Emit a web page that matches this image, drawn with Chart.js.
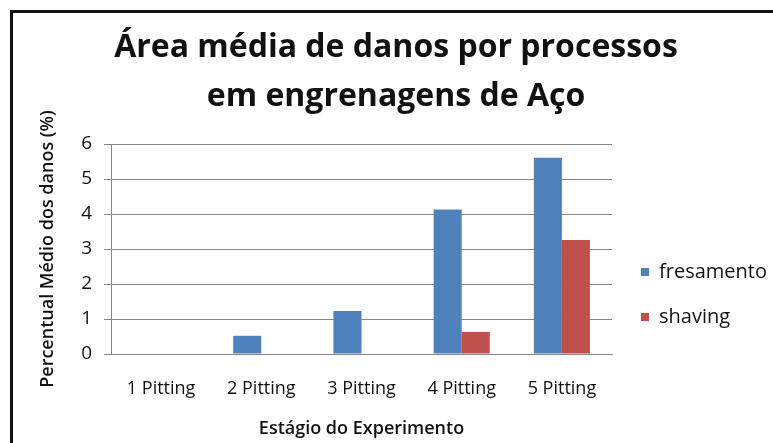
<!DOCTYPE html>
<html>
<head>
<meta charset="utf-8">
<title>Área média de danos por processos em engrenagens de Aço</title>
<script src="https://cdn.jsdelivr.net/npm/chart.js@4/dist/chart.umd.min.js"></script>
<style>
  html, body { margin: 0; padding: 0; background: #fff; }
  #wrap { position: relative; width: 773px; height: 443px; overflow: hidden; }
  #frame {
    position: absolute; left: 10px; top: 10px; right: 0; bottom: 0;
    border-top: 3px solid #111; border-left: 3px solid #111;
    pointer-events: none;
  }
</style>
</head>
<body>
<div id="wrap">
  <canvas id="chart" width="773" height="443"></canvas>
  <div id="frame"></div>
</div>
<script>
const stages = ["1 Pitting", "2 Pitting", "3 Pitting", "4 Pitting", "5 Pitting"];
const fresamento = [0, 0.52, 1.23, 4.13, 5.61];
const shaving = [0, 0, 0, 0.63, 3.26];
const yMin = 0;
const yMax = 6;
const yStep = 1;

const gridGray = "#878787";
const textColor = "#111";
const fontFamily = "'Open Sans', Lato, sans-serif";

// keeps the legend column at a fixed width and moves it beside the plot
const legendPlacement = {
  id: "legendPlacement",
  beforeLayout(chart) {
    const lg = chart.legend;
    if (lg && !lg._fixedFit) {
      const fit = lg.fit;
      lg.fit = function () {
        fit.call(this);
        this.width = 161;
      };
      lg._fixedFit = true;
    }
  },
  afterLayout(chart) {
    const lg = chart.legend;
    lg.left = 616;
    lg.right = 777;
    lg.top = 237;
    lg.bottom = 443;
  }
};

const ctx = document.getElementById("chart");
const myChart = new Chart(ctx, {
  type: "bar",
  data: {
    labels: stages,
    datasets: [
      {
        label: "fresamento",
        data: fresamento,
        backgroundColor: "#4f81bd",
        borderWidth: 0
      },
      {
        label: "shaving",
        data: shaving,
        backgroundColor: "#c0504d",
        borderWidth: 0
      }
    ]
  },
  options: {
    responsive: false,
    devicePixelRatio: 1,
    animation: false,
    categoryPercentage: 0.56,
    barPercentage: 1.0,
    layout: { padding: { left: 19, right: 0, top: 0, bottom: 0 } },
    plugins: {
      title: {
        display: true,
        text: ["Área média de danos por processos", "em engrenagens de Aço"],
        color: textColor,
        font: { family: fontFamily, size: 32, weight: "bold", lineHeight: "49px" },
        padding: { top: 23, bottom: 23 }
      },
      legend: {
        position: "right",
        align: "start",
        labels: {
          color: textColor,
          font: { family: fontFamily, size: 20 },
          boxWidth: 8,
          boxHeight: 8,
          padding: 25
        }
      },
      tooltip: { enabled: false }
    },
    scales: {
      x: {
        grid: { display: false, drawTicks: false },
        border: { display: true, color: gridGray },
        ticks: {
          color: textColor,
          font: { family: fontFamily, size: 18 },
          padding: 24,
          maxRotation: 0
        },
        title: {
          display: true,
          text: "Estágio do Experimento",
          color: textColor,
          font: { family: fontFamily, size: 18, weight: "600" },
          padding: { top: 0, bottom: 3 }
        },
        afterFit(scale) { scale.height = 89; }
      },
      y: {
        min: yMin,
        max: yMax,
        grid: { color: gridGray, tickLength: 7 },
        border: { display: true, color: gridGray },
        ticks: {
          stepSize: yStep,
          color: textColor,
          font: { family: fontFamily, size: 19 },
          padding: 12
        },
        title: {
          display: true,
          text: "Percentual Médio dos danos (%)",
          color: textColor,
          font: { family: fontFamily, size: 18, weight: "600" },
          padding: { top: 18, bottom: 0 }
        },
        afterFit(scale) { scale.width = 92; }
      }
    }
  },
  plugins: [legendPlacement]
});
</script>
</body>
</html>
